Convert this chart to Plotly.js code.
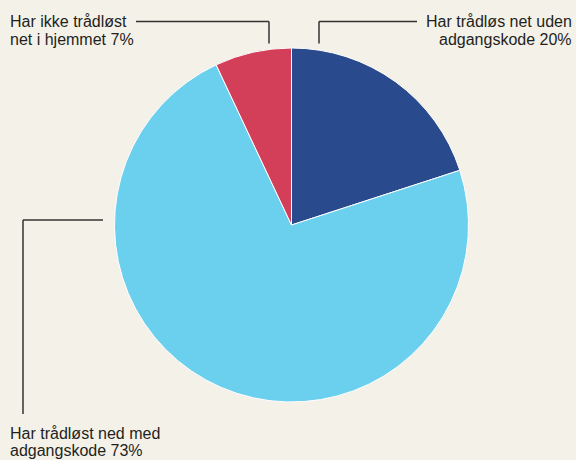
<!DOCTYPE html>
<html>
<head>
<meta charset="utf-8">
<script src="https://cdn.plot.ly/plotly-3.0.1.min.js"></script>
<style>
html,body{margin:0;padding:0;background:#f4f1e9;}
#chart{width:576px;height:460px;}
</style>
</head>
<body>
<div id="chart"></div>
<script>
// Data
var categories = ["Har trådløs net uden adgangskode", "Har trådløst ned med adgangskode", "Har ikke trådløst net i hjemmet"];
var values = [20, 73, 7];
var labelLine1 = ["Har trådløs net uden", "Har trådløst ned med", "Har ikke trådløst"];
var labelLine2 = ["adgangskode", "adgangskode", "net i hjemmet"];
var colors = ["#2a4a8e", "#6bcfee", "#d33f58"];

var W = 576, H = 460;
function px(x){ return x / W; }
function py(y){ return 1 - y / H; }

var cx = 291.5, cy = 225, r = 177;

var trace = {
  type: "pie",
  labels: categories,
  values: values,
  sort: false,
  direction: "clockwise",
  rotation: 0,
  marker: { colors: colors, line: { color: "#ffffff", width: 1 } },
  textinfo: "none",
  hoverinfo: "label+percent",
  domain: { x: [px(cx - r), px(cx + r)], y: [py(cy + r), py(cy - r)] }
};

// label placement (pixel positions of text baselines)
var labelPos = [
  { x: 573, y1: 27.5, y2: 45, anchor: "right" },
  { x: 9, y1: 439, y2: 456.5, anchor: "left" },
  { x: 9, y1: 27.5, y2: 45, anchor: "left" }
];
var fontSize = 16;
var font = { family: "'Liberation Sans', Arial, sans-serif", size: fontSize, color: "#231f20" };
var annotations = [];
for (var i = 0; i < categories.length; i++) {
  var p = labelPos[i];
  annotations.push({ xref: "paper", yref: "paper", x: px(p.x), y: py(p.y1 - fontSize * 0.36),
    text: labelLine1[i], showarrow: false, xanchor: p.anchor, yanchor: "middle", font: font, borderpad: 0 });
  annotations.push({ xref: "paper", yref: "paper", x: px(p.x), y: py(p.y2 - fontSize * 0.36),
    text: labelLine2[i] + " " + values[i] + "%", showarrow: false, xanchor: p.anchor, yanchor: "middle", font: font, borderpad: 0 });
}

var lineStyle = { color: "#333333", width: 1.5 };
function seg(x0, y0, x1, y1) {
  return { type: "line", xref: "paper", yref: "paper", x0: px(x0), y0: py(y0), x1: px(x1), y1: py(y1), line: lineStyle };
}
var shapes = [
  seg(136, 21.5, 269, 21.5), seg(269, 21.5, 269, 43.5),
  seg(417, 21.5, 319, 21.5), seg(319, 21.5, 319, 43.5),
  seg(103, 220, 23, 220), seg(23, 220, 23, 414)
];

var layout = {
  width: W, height: H,
  margin: { l: 0, r: 0, t: 0, b: 0 },
  paper_bgcolor: "#f4f1e9",
  plot_bgcolor: "#f4f1e9",
  showlegend: false,
  annotations: annotations,
  shapes: shapes
};

Plotly.newPlot("chart", [trace], layout, { displayModeBar: false, staticPlot: true });
</script>
</body>
</html>
